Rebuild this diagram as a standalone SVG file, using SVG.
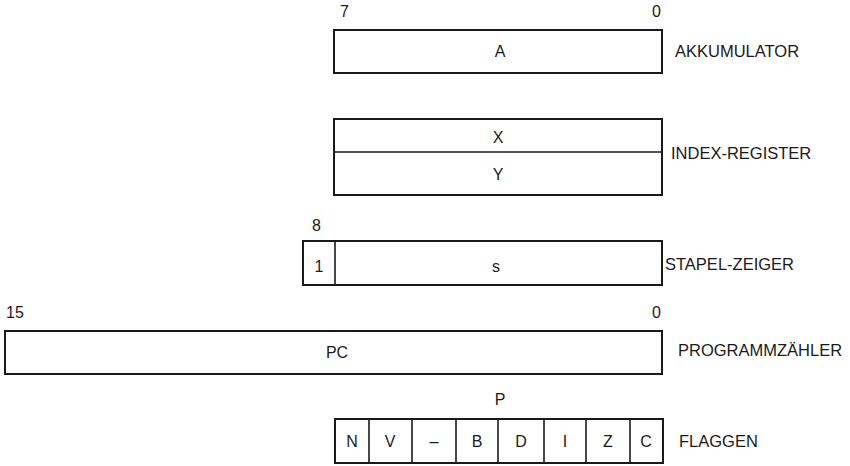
<svg xmlns="http://www.w3.org/2000/svg" width="850" height="466" viewBox="0 0 850 466">
<style>
  .box { fill: #ffffff; stroke: #1a1a1a; stroke-width: 2; }
  .ln { stroke: #1a1a1a; stroke-width: 1.6; fill: none; }
  text { font-family: "Liberation Sans", Arial, sans-serif; fill: #1a1a1a; }
  .in { font-size: 16px; text-anchor: middle; }
  .num { font-size: 16px; }
  .lab { font-size: 16.5px; }
</style>
<rect width="850" height="466" fill="#ffffff"/>

<g id="akkumulator">
  <text class="num" x="340" y="17">7</text>
  <text class="num" x="652" y="17">0</text>
  <rect class="box" x="334" y="30" width="328" height="43"/>
  <text class="in" x="500" y="57">A</text>
  <text class="lab" x="675" y="57">AKKUMULATOR</text>
</g>

<g id="index-register">
  <rect class="box" x="334" y="119" width="328" height="76"/>
  <line class="ln" x1="334" y1="152" x2="662" y2="152"/>
  <text class="in" x="498" y="143">X</text>
  <text class="in" x="498" y="180">Y</text>
  <text class="lab" x="671" y="159">INDEX-REGISTER</text>
</g>

<g id="stapel-zeiger">
  <text class="num" x="312" y="231">8</text>
  <rect class="box" x="303" y="241" width="359" height="44"/>
  <line class="ln" x1="335" y1="241" x2="335" y2="285"/>
  <text class="in" x="319" y="272">1</text>
  <text class="in" x="496" y="272">s</text>
  <text class="lab" x="665" y="270">STAPEL-ZEIGER</text>
</g>

<g id="programmzaehler">
  <text class="num" x="6" y="318">15</text>
  <text class="num" x="652" y="318">0</text>
  <rect class="box" x="5" y="331" width="657" height="43"/>
  <text class="in" x="337" y="358">PC</text>
  <text class="lab" x="678" y="356">PROGRAMMZÄHLER</text>
</g>

<g id="flaggen">
  <text class="in" x="500" y="405">P</text>
  <rect class="box" x="335" y="419" width="328" height="44"/>
  <line class="ln" x1="369" y1="419" x2="369" y2="463"/>
  <line class="ln" x1="412" y1="419" x2="412" y2="463"/>
  <line class="ln" x1="456" y1="419" x2="456" y2="463"/>
  <line class="ln" x1="498" y1="419" x2="498" y2="463"/>
  <line class="ln" x1="544" y1="419" x2="544" y2="463"/>
  <line class="ln" x1="586" y1="419" x2="586" y2="463"/>
  <line class="ln" x1="630" y1="419" x2="630" y2="463"/>
  <text class="in" x="352" y="447">N</text>
  <text class="in" x="390" y="447">V</text>
  <text class="in" x="434" y="447">–</text>
  <text class="in" x="477" y="447">B</text>
  <text class="in" x="521" y="447">D</text>
  <text class="in" x="565" y="447">I</text>
  <text class="in" x="608" y="447">Z</text>
  <text class="in" x="646" y="447">C</text>
  <text class="lab" x="679" y="447">FLAGGEN</text>
</g>

<g id="connectors"></g>
</svg>
